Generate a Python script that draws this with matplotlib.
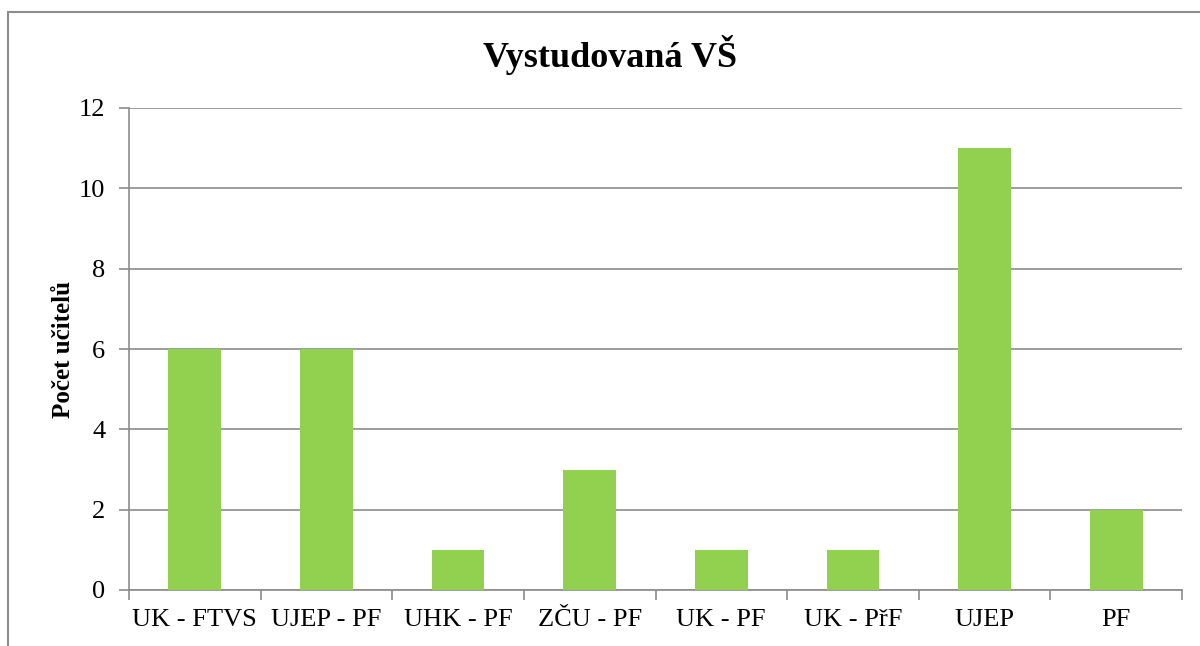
import matplotlib
matplotlib.use("Agg")
import matplotlib.pyplot as plt
from matplotlib.patches import Rectangle
import numpy as np

categories = ["UK - FTVS", "UJEP - PF", "UHK - PF", "ZČU - PF", "UK - PF", "UK - PřF", "UJEP", "PF"]
values = [6, 6, 1, 3, 1, 1, 11, 2]
yticks = [0, 2, 4, 6, 8, 10, 12]

plt.rcParams['font.family'] = ['Liberation Serif', 'DejaVu Serif']

fig = plt.figure(figsize=(12, 6.46), dpi=100)
ax = fig.add_axes([129/1200, 1 - 590/646, (1182 - 129)/1200, (590 - 108)/646])

x = np.arange(len(categories))
ax.bar(x, values, width=0.4, color="#92D050", zorder=3)

ax.set_xlim(-0.5, len(categories) - 0.5)
ax.set_ylim(0, 12)
ax.set_yticks(yticks)
ax.set_yticklabels([str(v) for v in yticks], fontsize=19)
ax.yaxis.grid(True, color="#8c8c8c", linewidth=1.2, zorder=0)

ax.set_xticks(x)
ax.set_xticklabels(categories, fontsize=19)
ax.tick_params(axis='x', length=0, pad=14)
ax.set_xticks(np.arange(-0.5, len(categories)), minor=True)
ax.tick_params(axis='x', which='minor', length=7, width=1.2, color="#8c8c8c", direction='out')
ax.tick_params(axis='y', length=7, width=1.2, color="#8c8c8c", direction='out', pad=10)

for s in ["top", "right"]:
    ax.spines[s].set_visible(False)
for s in ["left", "bottom"]:
    ax.spines[s].set_color("#8c8c8c")
    ax.spines[s].set_linewidth(1.2)

ax.set_ylabel("Počet učitelů", fontsize=18, fontweight="bold", labelpad=3)
fig.text(610/1200, 1 - 55/646, "Vystudovaná VŠ", ha="center", va="center", fontsize=26, fontweight="bold")

border = Rectangle((8/1200, -0.1), 1.2, (646 - 12)/646 + 0.1, transform=fig.transFigure,
                   fill=False, edgecolor="#8c8c8c", linewidth=1.5, clip_on=False)
fig.patches.append(border)

fig.savefig("out.png", dpi=100)
